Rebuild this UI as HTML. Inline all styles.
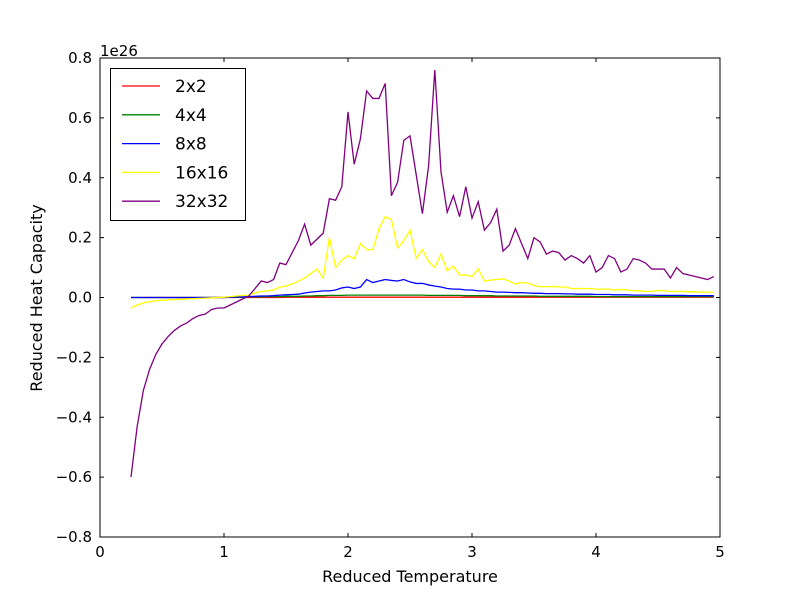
<!DOCTYPE html>
<html><head><meta charset="utf-8"><style>
body{margin:0;background:#fff}
svg{display:block;font-family:"DejaVu Sans","Liberation Sans",sans-serif}
</style></head><body>
<svg id="chart" width="800" height="597">
<rect width="800" height="597" fill="#fff"/>
<g id="series"></g>
<g id="axes"></g>
<text x="100" y="56" font-size="15">1e26</text>
<text x="410" y="582" font-size="16" text-anchor="middle">Reduced Temperature</text>
<text transform="translate(42,298) rotate(-90)" font-size="16" text-anchor="middle">Reduced Heat Capacity</text>
<g id="legend"></g>
</svg>
<script>
const xStart = 0.25, xStep = 0.05;
const names = ["2x2","4x4","8x8","16x16","32x32"];
const colors = ["red","green","blue","yellow","purple"];
const xTicks = [0,1,2,3,4,5];
const yTicks = [-0.8,-0.6,-0.4,-0.2,0.0,0.2,0.4,0.6,0.8];
const red = [0,0,0,0,0,0,0,0,0,0, 0,0,0,0,0,0,0,0,0,0, 0,0,0,0,0,0.001,0.001,0.001,0.001,0.001, 0.001,0.001,0.001,0.001,0.001,0.001,0.001,0.001,0.001,0.001, 0.001,0.001,0.001,0.001,0.001,0.001,0.001,0.001,0.001,0.001, 0.001,0.001,0.001,0.001,0.001,0.001,0.001,0.001,0.001,0.001, 0.001,0.001,0.001,0.001,0.001,0.001,0.001,0.001,0.001,0.001, 0.001,0.001,0.001,0.001,0.001,0.001,0.001,0.001,0.001,0.001, 0.001,0.001,0.001,0.001,0.001,0.001,0.001,0.001,0.001,0.001, 0.001,0.001,0.001,0.001,0.001];
const green = [0,0,0,0,0,0,0,0,0,0, 0,0,0,0,0,0,0.001,0.001,0.001,0.002, 0.002,0.002,0.003,0.003,0.003,0.004,0.004,0.004,0.005,0.005, 0.006,0.006,0.007,0.007,0.007,0.008,0.008,0.008,0.008,0.008, 0.008,0.008,0.008,0.008,0.008,0.008,0.008,0.008,0.007,0.007, 0.007,0.007,0.007,0.007,0.006,0.006,0.006,0.006,0.006,0.005, 0.005,0.005,0.005,0.005,0.005,0.005,0.004,0.004,0.004,0.004, 0.004,0.004,0.004,0.004,0.004,0.003,0.003,0.003,0.003,0.003, 0.003,0.003,0.003,0.003,0.003,0.003,0.003,0.003,0.003,0.003, 0.003,0.003,0.003,0.003,0.003];
const blue = [0,0,0,0,0,0,0,0,0,0, 0,0,0,0,0,0,0.001,0.002,0.002,0.003, 0.004,0.005,0.005,0.006,0.008,0.009,0.01,0.011,0.015,0.018, 0.02,0.022,0.022,0.025,0.032,0.035,0.03,0.035,0.06,0.05, 0.055,0.06,0.057,0.055,0.06,0.052,0.047,0.047,0.042,0.038, 0.035,0.03,0.028,0.028,0.025,0.025,0.022,0.022,0.02,0.018, 0.018,0.017,0.016,0.016,0.015,0.014,0.014,0.013,0.013,0.013, 0.012,0.012,0.011,0.011,0.011,0.01,0.01,0.01,0.009,0.009, 0.009,0.008,0.008,0.008,0.008,0.007,0.007,0.007,0.007,0.007, 0.006,0.006,0.006,0.006,0.006];
const yellow = [-0.035,-0.025,-0.018,-0.014,-0.011,-0.009,-0.008,-0.007,-0.006,-0.005, -0.004,-0.003,-0.002,-0.001,0,0.001,0.003,0.005,0.007,0.008, 0.015,0.02,0.022,0.025,0.035,0.038,0.045,0.055,0.065,0.08, 0.095,0.065,0.2,0.1,0.125,0.14,0.13,0.18,0.16,0.16, 0.23,0.27,0.26,0.165,0.19,0.225,0.13,0.16,0.12,0.1, 0.145,0.09,0.105,0.075,0.075,0.07,0.095,0.055,0.058,0.06, 0.062,0.055,0.045,0.05,0.048,0.04,0.036,0.036,0.037,0.035, 0.035,0.03,0.03,0.03,0.03,0.028,0.028,0.028,0.025,0.027, 0.025,0.023,0.022,0.02,0.02,0.024,0.022,0.02,0.02,0.02, 0.019,0.019,0.018,0.018,0.017];
const purple = [-0.6,-0.43,-0.31,-0.24,-0.19,-0.155,-0.13,-0.11,-0.095,-0.085, -0.07,-0.06,-0.055,-0.04,-0.035,-0.035,-0.025,-0.015,-0.005,0.005, 0.03,0.055,0.05,0.06,0.115,0.11,0.15,0.19,0.245,0.175, 0.195,0.215,0.33,0.325,0.37,0.62,0.445,0.53,0.69,0.665, 0.665,0.715,0.34,0.385,0.525,0.54,0.41,0.28,0.44,0.76, 0.42,0.285,0.34,0.27,0.37,0.265,0.32,0.225,0.25,0.295, 0.155,0.175,0.23,0.18,0.13,0.2,0.185,0.145,0.155,0.15, 0.125,0.14,0.13,0.115,0.14,0.085,0.1,0.14,0.13,0.085, 0.095,0.13,0.125,0.115,0.095,0.095,0.095,0.065,0.1,0.08, 0.075,0.07,0.065,0.06,0.07];

const L=100,R=720,T=58,B=537;
const sx = v => L + (v-0)/(5-0)*(R-L);
const sy = v => B - (v+0.8)/1.6*(B-T);
const NS="http://www.w3.org/2000/svg";
function mk(tag, attrs, parent){const e=document.createElementNS(NS,tag);for(const k in attrs)e.setAttribute(k,attrs[k]);parent.appendChild(e);return e;}
const sg=document.getElementById('series');
[red,green,blue,yellow,purple].forEach((arr,i)=>{
  const pts=arr.map((v,j)=>sx(xStart+j*xStep).toFixed(2)+","+sy(v).toFixed(2)).join(" ");
  const p=mk('polyline',{points:pts,fill:'none',stroke:colors[i],'stroke-width':1.3},sg);
  
  
});
const ag=document.getElementById('axes');
const frame=mk('rect',{x:L,y:T,width:R-L,height:B-T,fill:'none',stroke:'#000','stroke-width':1},ag);


xTicks.forEach(v=>{
  const x=sx(v);
  mk('line',{x1:x,x2:x,y1:B,y2:B-4,stroke:'#000'},ag);
  mk('line',{x1:x,x2:x,y1:T,y2:T+4,stroke:'#000'},ag);
  const t=mk('text',{x:x,y:B+20,'font-size':15,'text-anchor':'middle'},ag);
  t.textContent=String(v);
  
  
});
yTicks.forEach(v=>{
  const y=sy(v);
  mk('line',{x1:L,x2:L+4,y1:y,y2:y,stroke:'#000'},ag);
  mk('line',{x1:R,x2:R-4,y1:y,y2:y,stroke:'#000'},ag);
  const t=mk('text',{x:L-8,y:y+5,'font-size':15,'text-anchor':'end'},ag);
  t.textContent=(v<0?"\u2212":"")+Math.abs(v).toFixed(1);
  
  
});
const lg=document.getElementById('legend');
mk('rect',{x:110.5,y:68.5,width:135,height:152,fill:'#fff',stroke:'#000'},lg);
names.forEach((n,i)=>{
  const y=86+i*28.8;
  const ln=mk('line',{x1:122,x2:160,y1:y,y2:y,stroke:colors[i],'stroke-width':1.3},lg);
  
  
  const t=mk('text',{x:175,y:y+6,'font-size':17},lg);
  t.textContent=n;
  
  
});
</script>
</body></html>
